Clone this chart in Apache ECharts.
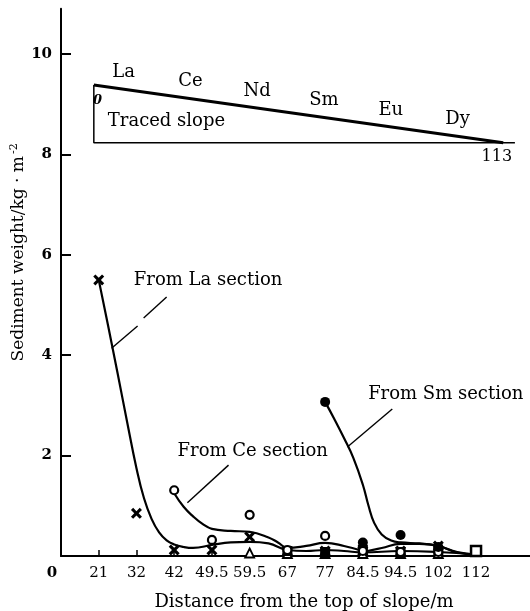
<!DOCTYPE html>
<html>
<head>
<meta charset="utf-8">
<style>html,body{margin:0;padding:0;background:#fff;}#c{width:530px;height:611px;}</style>
<script src="https://cdn.jsdelivr.net/npm/echarts@6/dist/echarts.min.js"></script>
</head>
<body>
<div id="c"></div>
<script>
// ---- data ----
const distanceLabels = ['21','32','42','49.5','59.5','67','77','84.5','94.5','102','112'];
const yTickValues = [2,4,6,8,10];
// measured points at each distance (kg/m2)
const laMarks = [5.5,0.85,0.12,0.12,0.38,0.1,0.1,0.1,0.1,0.2,null];
const ceMarks = [null,null,1.31,0.32,0.82,0.12,0.4,0.1,0.08,0.08,null];
const ndMarks = [null,null,null,null,0.06,0.05,0.05,0.05,0.05,0.05,null];
const smMarks = [null,null,null,null,null,null,3.07,0.27,0.42,0.18,null];
const euMarks = [null,null,null,null,null,0.1,0.08,0.12,0.08,0.1,null];
const dyMarks = [null,null,null,null,null,null,null,null,null,null,0.1];
// fitted curves (position in distance-label units, value)
const laCurvePos = [1,1.25,1.5,1.75,2,2.2,2.4,2.6,2.8,3,3.25,3.5,4,4.5,5,5.5,6,6.5,7,7.5,8,9,10,11];
const laCurveVal = [5.5,4.58,3.64,2.68,1.75,1.15,0.74,0.47,0.31,0.23,0.18,0.16,0.22,0.27,0.28,0.25,0.12,0.1,0.12,0.1,0.07,0.1,0.08,0.03];
const ceCurvePos = [3,3.25,3.5,3.75,4,4.5,5,5.5,5.75,6,6.5,7,7.5,8];
const ceCurveVal = [1.25,0.98,0.79,0.64,0.54,0.5,0.48,0.37,0.27,0.16,0.2,0.26,0.2,0.1];
const smCurvePos = [7,7.25,7.5,7.75,8,8.15,8.3,8.5,8.75,9,9.5,10,10.5,11];
const smCurveVal = [3.07,2.72,2.35,1.95,1.42,1.0,0.66,0.43,0.31,0.27,0.25,0.2,0.08,0.03];
const euCurvePos = [8,8.5,9,9.5,10,10.5,11];
const euCurveVal = [0.08,0.16,0.24,0.24,0.2,0.07,0.03];
// traced slope sketch
const slopeElements = ['La','Ce','Nd','Sm','Eu','Dy'];
const slopeOutline = [[0.87,9.38],[0.87,8.23],[12.03,8.23]];
const slopeSurface = [[0.87,9.38],[11.72,8.23]];
const slopeLength = '113';

// ---- build ----
const FONT = 'DejaVu Serif';
function marks(arr){ return arr.map((v,i)=> v==null?null:[i+1,v]).filter(Boolean); }
function curve(pos,val){ return pos.map((p,i)=>[p,val[i]]); }
function curveSeries(pos,val){
  return {type:'line', data:curve(pos,val), smooth:0.45, showSymbol:false, symbol:'none',
    lineStyle:{color:'#000',width:2.2}, z:3, silent:true};
}
const crossPath = 'path://M0,2L2,0L5,3L8,0L10,2L7,5L10,8L8,10L5,7L2,10L0,8L3,5Z';
function markSeries(arr, symbol, size, fill, border){
  return {type:'scatter', data:marks(arr), symbol:symbol, symbolSize:size, z:5,
    itemStyle:{color:fill, borderColor:'#000', borderWidth:border, opacity:1}};
}
function textSeries(items, pos, extra){
  return {type:'scatter', symbolSize:0, z:6, silent:true,
    itemStyle:{color:'rgba(0,0,0,0)'},
    data: items.map(it=>({value:it.at, label:Object.assign({show:true, position:pos, distance:0,
      formatter:it.text, color:'#000', opacity:1, textBorderWidth:0, fontFamily:FONT, fontSize:18}, extra||{}, it.style||{})}))};
}
// slope element labels along surface
const s0 = slopeSurface[0], s1 = slopeSurface[1];
const surfY = x => s0[1] + (s1[1]-s0[1])*(x-s0[0])/(s1[0]-s0[0]);
const elemItems = slopeElements.map((t,i)=>{ const x = 1.66 + 1.77*i; return {text:t, at:[x, surfY(x)], style:{offset:[0,-17]}}; });

const leaderStyle = {color:'#000', width:1.4};
function leader(pts){ return {type:'line', data:pts, symbol:'none', showSymbol:false, lineStyle:leaderStyle, z:4, silent:true}; }

const chart = echarts.init(document.getElementById('c'), null, {renderer:'canvas'});
chart.setOption({
  animation:false,
  backgroundColor:'#fff',
  grid:{left:61, right:0, top:8.8, bottom:55, outerBoundsMode:'none'},
  xAxis:{type:'value', min:0, max:12.43,
    name:'Distance from the top of slope/m', nameLocation:'middle', nameGap:37, nameMoveOverlap:false,
    nameTextStyle:{fontFamily:FONT, fontSize:18, color:'#000', padding:[0,0,0,17]},
    axisLine:{show:true, lineStyle:{color:'#000', width:2}},
    axisTick:{show:true, inside:true, length:6, customValues:[1,2,3,4,5,6,7,8,9,10,11], lineStyle:{color:'#000', width:1.5}},
    axisLabel:{customValues:[0,1,2,3,4,5,6,7,8,9,10,11], margin:10, color:'#000', fontFamily:FONT, fontSize:15,
      formatter:v=> v===0 ? '{z|0}' : (distanceLabels[v-1]||''),
      rich:{z:{fontFamily:FONT, fontSize:15, fontWeight:'bold', color:'#000', padding:[0,18,0,0]}}},
    splitLine:{show:false}},
  yAxis:{type:'value', min:0, max:10.9,
    name:'Sediment weight/kg · m{s|-2}', nameLocation:'middle', nameGap:33, nameRotate:90, nameMoveOverlap:false,
    nameTextStyle:{fontFamily:FONT, fontSize:17, color:'#000', padding:[0,0,0,60],
      rich:{s:{fontFamily:FONT, fontSize:11, color:'#000', verticalAlign:'top', padding:[0,0,8,2]}}},
    axisLine:{show:true, lineStyle:{color:'#000', width:2}},
    axisTick:{show:true, inside:true, length:10, customValues:yTickValues, lineStyle:{color:'#000', width:2}},
    axisLabel:{customValues:yTickValues, margin:9, color:'#000', fontFamily:FONT, fontSize:15, fontWeight:'bold'},
    splitLine:{show:false}},
  series:[
    // traced slope sketch
    {type:'line', data:slopeOutline, symbol:'none', showSymbol:false, lineStyle:{color:'#000', width:1.5}, z:2, silent:true},
    {type:'line', data:slopeSurface, symbol:'none', showSymbol:false, lineStyle:{color:'#000', width:3}, z:2, silent:true},
    textSeries(elemItems, 'inside'),
    textSeries([{text:'Traced slope', at:[1.24,8.65]}], 'right'),
    textSeries([{text:slopeLength, at:[11.55,7.95], style:{fontSize:16}}], 'inside'),
    textSeries([{text:'0', at:[0.97,9.08], style:{fontSize:13, fontWeight:'bold', fontStyle:'italic'}}], 'inside'),
    // fitted curves
    curveSeries(laCurvePos, laCurveVal),
    curveSeries(ceCurvePos, ceCurveVal),
    curveSeries(smCurvePos, smCurveVal),
    curveSeries(euCurvePos, euCurveVal),
    // annotations
    textSeries([{text:'From La section', at:[1.93,5.5]},{text:'From Ce section', at:[3.09,2.09]},{text:'From Sm section', at:[8.14,3.23]}], 'right'),
    leader([[2.8,5.16],[2.19,4.74]]),
    leader([[2.03,4.58],[1.34,4.14]]),
    leader([[4.44,1.81],[3.35,1.06]]),
    leader([[8.78,2.93],[7.59,2.17]]),
    // markers
    markSeries(ndMarks, 'triangle', 9, '#fff', 1.8),
    markSeries(euMarks, 'rect', 10, '#000', 0),
    markSeries(dyMarks, 'rect', 10, '#fff', 2.5),
    markSeries(laMarks, crossPath, 11, '#000', 0),
    markSeries(ceMarks, 'circle', 8, '#fff', 2.2),
    markSeries(smMarks, 'circle', 10, '#000', 0)
  ]
});
</script>
</body>
</html>
